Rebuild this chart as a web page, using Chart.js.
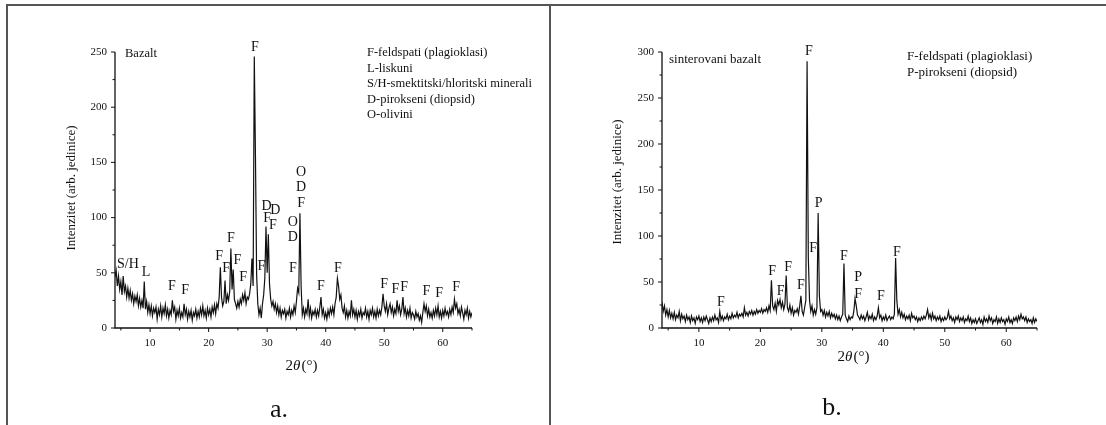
<!DOCTYPE html>
<html>
<head>
<meta charset="utf-8">
<script src="https://cdn.jsdelivr.net/npm/chart.js@4"></script>
<style>
  body { margin: 0; background: #fff; }
  #wrap { position: relative; width: 1106px; height: 425px; overflow: hidden; }
  canvas { position: absolute; top: 0; }
  .frame { position: absolute; background: #555; }
</style>
</head>
<body>
<div id="wrap">
  <canvas id="chartA" width="550" height="425" style="left:0"></canvas>
  <canvas id="chartB" width="556" height="425" style="left:550px"></canvas>
  <div class="frame" style="left:7px;top:4px;width:1099px;height:2px"></div>
  <div class="frame" style="left:6px;top:4px;width:2px;height:421px"></div>
  <div class="frame" style="left:549px;top:4px;width:2px;height:421px"></div>
</div>
<script>
// 2theta grid of both scans: 4.0 .. 65.0, step 0.2
var thetaStart = 4, thetaStep = 0.2;

// a. Bazalt
var bazaltI = [
  46,52,38,47,35, 42,30,47,33,38, 28,36,27,34,25, 31,22,29,24,30, 20,27,19,25,18,
  42,17,24,14,21, 13,20,11,18,14, 19,8,17,12,20, 10,18,13,21,11, 17,9,16,12,25,
  15,19,8,16,11, 18,9,14,10,22, 12,17,8,15,10, 16,7,14,11,17, 9,15,10,18,12,
  20,11,16,9,18, 12,17,10,19,14, 21,13,22,18,28, 55,28,20,24,43, 22,30,25,33,72,
  35,53,26,22,18, 24,19,26,22,30, 25,32,22,28,26, 31,40,63,38,246, 155,48,22,12,18,
  9,22,30,45,92, 50,85,40,26,20, 24,17,22,14,20, 12,18,10,16,13, 17,9,15,12,18,
  10,16,12,20,14, 24,36,32,104,38, 12,18,10,17,13, 26,11,18,9,15, 12,17,10,16,11,
  19,28,12,17,9, 14,8,16,11,18, 13,19,12,22,28, 45,38,26,30,18, 14,20,10,16,9,
  15,11,25,12,17, 10,16,8,15,11, 17,9,14,12,18, 10,15,8,16,12, 18,10,15,9,17,
  11,16,12,19,31, 20,15,22,12,18, 22,14,19,11,17, 13,25,15,20,12, 17,28,13,18,10,
  16,11,18,9,14, 12,8,15,10,13, 7,11,5,14,22, 15,20,11,17,10, 14,9,16,11,18,
  12,20,10,15,9, 16,11,18,12,15, 10,17,12,19,14, 26,18,22,13,17, 11,19,14,8,16,
  12,18,9,15,10, 14
];

// b. sinterovani bazalt
var sinterI = [
  28,18,24,14,20, 12,19,11,16,10, 17,9,14,11,18, 8,15,10,13,7, 14,9,12,6,13,
  8,11,5,12,9, 13,7,11,6,12, 8,13,9,5,11, 7,12,8,14,9, 11,6,18,9,13,
  8,12,10,15,9, 13,10,16,11,14, 12,17,11,15,13, 16,12,22,14,17, 13,18,15,19,14,
  18,15,20,16,19, 17,21,16,20,18, 22,17,24,19,52, 24,20,27,18,30, 25,31,22,28,20,
  26,57,22,18,25, 16,22,14,19,17, 21,15,24,35,18, 14,22,30,290,77, 30,18,24,14,20,
  15,22,125,35,18, 20,14,19,12,17, 13,18,11,16,12, 15,10,14,9,13, 8,12,15,70,14,
  10,7,13,9,12, 11,18,32,24,14, 12,9,14,10,13, 8,12,17,9,13, 10,15,8,12,9,
  13,22,11,14,8, 12,9,14,8,11, 13,9,12,10,15, 76,30,15,20,12, 17,11,15,9,13,
  10,14,8,16,11, 13,9,12,7,11, 8,12,9,13,10, 14,20,11,15,9, 16,10,13,8,12,
  9,13,7,11,8, 12,9,11,18,10, 13,8,11,6,12, 9,13,7,11,8, 12,6,10,8,13,
  7,11,5,9,6, 10,5,8,11,6, 9,4,12,7,10, 6,13,8,11,5, 9,7,12,5,10,
  6,11,7,9,4, 10,7,12,6,9, 5,11,8,12,7, 13,9,15,10,12, 8,12,6,10,7,
  9,5,11,6,10, 7
];

var xTicks = [10, 20, 30, 40, 50, 60];
var xMinor = [5, 15, 25, 35, 45, 55, 65];
var yTicksA = [0, 50, 100, 150, 200, 250];
var yMinorA = [25, 75, 125, 175, 225];
var yTicksB = [0, 50, 100, 150, 200, 250, 300];
var yMinorB = [25, 75, 125, 175, 225, 275];

// peak labels: letter, 2theta, intensity where the letter sits
var bazaltTag = ['S/H','L','F','F','F','F','F','F','F','F','F','D','D','F','F','O','D','O','D','F','F','F','F','F','F','F','F','F','F'];
var bazaltTagX = [6.2,9.3,13.7,16.0,21.8,23.0,23.8,24.9,25.9,27.9,29.0,29.9,31.4,30.0,31.0,34.4,34.4,35.8,35.8,35.8,34.4,39.2,42.1,50.0,51.9,53.4,57.2,59.4,62.3];
var bazaltTagY = [58,50,38,34,65,54,81,61,46,254,56,110,107,99,93,96,82,141,127,113,54,38,54,40,35,37,33,31,37];

var sinterTag = ['F','F','F','F','F','F','F','P','F','P','F','F','F'];
var sinterTagX = [27.9,13.6,21.9,23.3,24.5,26.6,28.6,29.5,33.6,35.9,35.9,39.6,42.2];
var sinterTagY = [301,28,62,40,66,46,87,135,78,55,37,34,82];

var legendA = ['F-feldspati (plagioklasi)', 'L-liskuni', 'S/H-smektitski/hloritski minerali', 'D-pirokseni (diopsid)', 'O-olivini'];
var legendB = ['F-feldspati (plagioklasi)', 'P-pirokseni (diopsid)'];

var SERIF = '"Liberation Serif", "DejaVu Serif", serif';

function toPoints(vals) {
    return vals.map(function (v, i) {
        return { x: Math.round((thetaStart + i * thetaStep) * 10) / 10, y: v };
    });
}

function decor(cfg) {
    return {
        id: 'decor',
        afterDraw: function (chart) {
            var ctx = chart.ctx, xs = chart.scales.x, ys = chart.scales.y, a = chart.chartArea;
            ctx.save();
            ctx.strokeStyle = '#111';
            ctx.lineWidth = 1.3;
            ctx.beginPath();
            ctx.moveTo(a.left, a.top); ctx.lineTo(a.left, a.bottom); ctx.lineTo(a.right, a.bottom);
            ctx.stroke();
            ctx.lineWidth = 1;
            ctx.beginPath();
            xTicks.forEach(function (v) { var p = xs.getPixelForValue(v); ctx.moveTo(p, a.bottom); ctx.lineTo(p, a.bottom + 4); });
            xMinor.forEach(function (v) { var p = xs.getPixelForValue(v); ctx.moveTo(p, a.bottom); ctx.lineTo(p, a.bottom + 2.5); });
            cfg.yTicks.forEach(function (v) { var p = ys.getPixelForValue(v); ctx.moveTo(a.left, p); ctx.lineTo(a.left - 4, p); });
            cfg.yMinor.forEach(function (v) { var p = ys.getPixelForValue(v); ctx.moveTo(a.left, p); ctx.lineTo(a.left - 2.5, p); });
            ctx.stroke();

            ctx.fillStyle = '#111';
            ctx.textBaseline = 'middle';
            // tick labels
            ctx.font = '11px ' + SERIF;
            ctx.textAlign = 'center';
            xTicks.forEach(function (v) { ctx.fillText(String(v), xs.getPixelForValue(v), a.bottom + 15); });
            ctx.textAlign = 'right';
            cfg.yTicks.forEach(function (v) { ctx.fillText(String(v), a.left - 8, ys.getPixelForValue(v)); });
            // peak letters
            ctx.font = '14px ' + SERIF;
            ctx.textAlign = 'center';
            cfg.tags.forEach(function (t, i) {
                ctx.fillText(t, xs.getPixelForValue(cfg.tagX[i]), ys.getPixelForValue(cfg.tagY[i]));
            });
            // sample name and legend
            ctx.textAlign = 'left';
            ctx.font = cfg.legendSize + 'px ' + SERIF;
            ctx.fillText(cfg.name, cfg.nameX, cfg.nameY);
            cfg.legend.forEach(function (t, i) {
                ctx.fillText(t, cfg.legX, cfg.legY + i * cfg.legGap);
            });
            // y title
            ctx.save();
            ctx.translate(cfg.yTitleX, cfg.yTitleY);
            ctx.rotate(-Math.PI / 2);
            ctx.textAlign = 'center';
            ctx.font = '13px ' + SERIF;
            ctx.fillText('Intenzitet (arb. jedinice)', 0, 0);
            ctx.restore();
            // x title 2θ(°)
            ctx.textAlign = 'left';
            var fN = '15px ' + SERIF, fI = 'italic 15px ' + SERIF;
            ctx.font = fN; var w1 = ctx.measureText('2').width, w3 = ctx.measureText('(°)').width;
            ctx.font = fI; var w2 = ctx.measureText('θ').width;
            var x0 = cfg.xTitleX - (w1 + w2 + w3) / 2;
            ctx.font = fN; ctx.fillText('2', x0, cfg.xTitleY);
            ctx.font = fI; ctx.fillText('θ', x0 + w1, cfg.xTitleY);
            ctx.font = fN; ctx.fillText('(°)', x0 + w1 + w2 + 1, cfg.xTitleY);
            // panel letter
            ctx.textAlign = 'center';
            ctx.font = '26px ' + SERIF;
            ctx.fillText(cfg.panel, cfg.panelX, cfg.panelY);
            ctx.restore();
        }
    };
}

function makeChart(id, vals, yMax, pad, cfg) {
    var ctx = document.getElementById(id).getContext('2d');
    return new Chart(ctx, {
        type: 'line',
        data: {
            datasets: [{
                data: toPoints(vals),
                borderColor: '#111',
                borderWidth: 1.2,
                pointRadius: 0,
                tension: 0,
                fill: false
            }]
        },
        options: {
            responsive: false,
            animation: false,
            devicePixelRatio: 1,
            layout: { padding: pad },
            plugins: { legend: { display: false }, tooltip: { enabled: false } },
            scales: {
                x: {
                    type: 'linear', min: 4, max: 65,
                    afterFit: function (s) { s.height = 0; },
                    grid: { display: false },
                    border: { display: false },
                    ticks: { display: false }
                },
                y: {
                    type: 'linear', min: 0, max: yMax,
                    afterFit: function (s) { s.width = 0; },
                    grid: { display: false },
                    border: { display: false },
                    ticks: { display: false }
                }
            }
        },
        plugins: [decor(cfg)]
    });
}

var chartA = makeChart('chartA', bazaltI, 250,
    { left: 115, top: 52, right: 78, bottom: 97 },
    { yTicks: yTicksA, yMinor: yMinorA, tags: bazaltTag, tagX: bazaltTagX, tagY: bazaltTagY,
      name: 'Bazalt', nameX: 125, nameY: 54, legend: legendA, legX: 367, legY: 53, legGap: 15.5, legendSize: 12.5,
      yTitleX: 72, yTitleY: 188, xTitleX: 301, xTitleY: 366, panel: 'a.', panelX: 279, panelY: 410 });

var chartB = makeChart('chartB', sinterI, 300,
    { left: 112, top: 52, right: 69, bottom: 97 },
    { yTicks: yTicksB, yMinor: yMinorB, tags: sinterTag, tagX: sinterTagX, tagY: sinterTagY,
      name: 'sinterovani bazalt', nameX: 119, nameY: 60, legend: legendB, legX: 357, legY: 57, legGap: 16, legendSize: 13,
      yTitleX: 68, yTitleY: 182, xTitleX: 303, xTitleY: 357, panel: 'b.', panelX: 282, panelY: 408 });
</script>
</body>
</html>
